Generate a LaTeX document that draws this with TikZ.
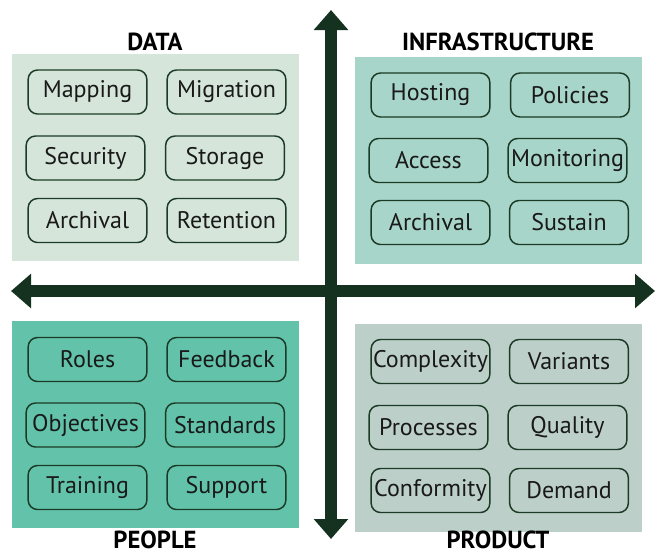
\documentclass[tikz,border=0pt]{standalone}
\usepackage{fontspec}
\setmainfont{PT Sans}
\usetikzlibrary{arrows.meta}
\definecolor{axisgreen}{RGB}{20,50,31}
\definecolor{edgegreen}{RGB}{28,59,38}
\definecolor{datafill}{RGB}{213,229,218}
\definecolor{infrafill}{RGB}{168,213,201}
\definecolor{peoplefill}{RGB}{98,195,170}
\definecolor{productfill}{RGB}{188,207,201}

\begin{document}
\begin{tikzpicture}[x=0.75pt,y=0.75pt,yscale=-1,xscale=1,
  item/.style={draw=edgegreen, line width=1.1pt, rounded corners=7pt,
    minimum width=89pt, minimum height=33pt, inner sep=0pt,
    text=black!90, font=\fontsize{18}{21}\selectfont},
  heading/.style={text=black, inner sep=0pt, font=\fontsize{18.5}{21}\selectfont\bfseries},
  axis/.style={axisgreen, line width=9.5pt,
    {Triangle[length=15pt,width=25pt]}-{Triangle[length=15pt,width=25pt]}}]
\useasboundingbox (0,0) rectangle (657,554);

%Shape: Rectangle (quadrant panels)
\fill [datafill] (12,54) rectangle (299,261);
\fill [infrafill] (355,57) rectangle (642,264);
\fill [peoplefill] (12,321) rectangle (299,528);
\fill [productfill] (355,324) rectangle (642,532);

%Axes
\coordinate (top) at (331,10);
\coordinate (bottom) at (331,539);
\coordinate (left) at (11,291);
\coordinate (right) at (655,291);
\draw [axis] (left) -- (right);
\draw [axis] (top) -- (bottom);

% Text Node (headings)
\node [heading] (hdata) at (155,42) {DATA};
\node [heading] (hinfra) at (498,42) {INFRASTRUCTURE};
\node [heading] (hpeople) at (155,540) {PEOPLE};
\node [heading] (hproduct) at (498,540) {PRODUCT};

% Text Node (data)
\node [item] (mapping) at (87.5,92) {Mapping};
\node [item] (migration) at (226.5,92) {Migration};
\node [item] (security) at (85.5,158) {Security};
\node [item] (storage) at (225,158) {Storage};
\node [item] (darchival) at (87.5,220.5) {Archival};
\node [item] (retention) at (226.5,220.5) {Retention};

% Text Node (infrastructure)
\node [item] (hosting) at (430.5,95) {Hosting};
\node [item] (policies) at (570,95) {Policies};
\node [item] (access) at (428.5,160.5) {Access};
\node [item] (monitoring) at (567.5,160.5) {Monitoring};
\node [item] (iarchival) at (430.5,222.5) {Archival};
\node [item] (sustain) at (569,222.5) {Sustain};

% Text Node (people)
\node [item] (roles) at (87.5,359.5) {Roles};
\node [item] (feedback) at (226.5,359.5) {Feedback};
\node [item] (objectives) at (85.5,425) {Objectives};
\node [item] (standards) at (225,425) {Standards};
\node [item] (training) at (87.5,487.5) {Training};
\node [item] (support) at (226.5,487.5) {Support};

% Text Node (product)
\node [item] (complexity) at (430.5,361.5) {Complexity};
\node [item] (variants) at (569,361.5) {Variants};
\node [item] (processes) at (428.5,427.5) {Processes};
\node [item] (quality) at (567.5,427.5) {Quality};
\node [item] (conformity) at (430.5,490.5) {Conformity};
\node [item] (demand) at (569,490.5) {Demand};

\end{tikzpicture}
\end{document}
